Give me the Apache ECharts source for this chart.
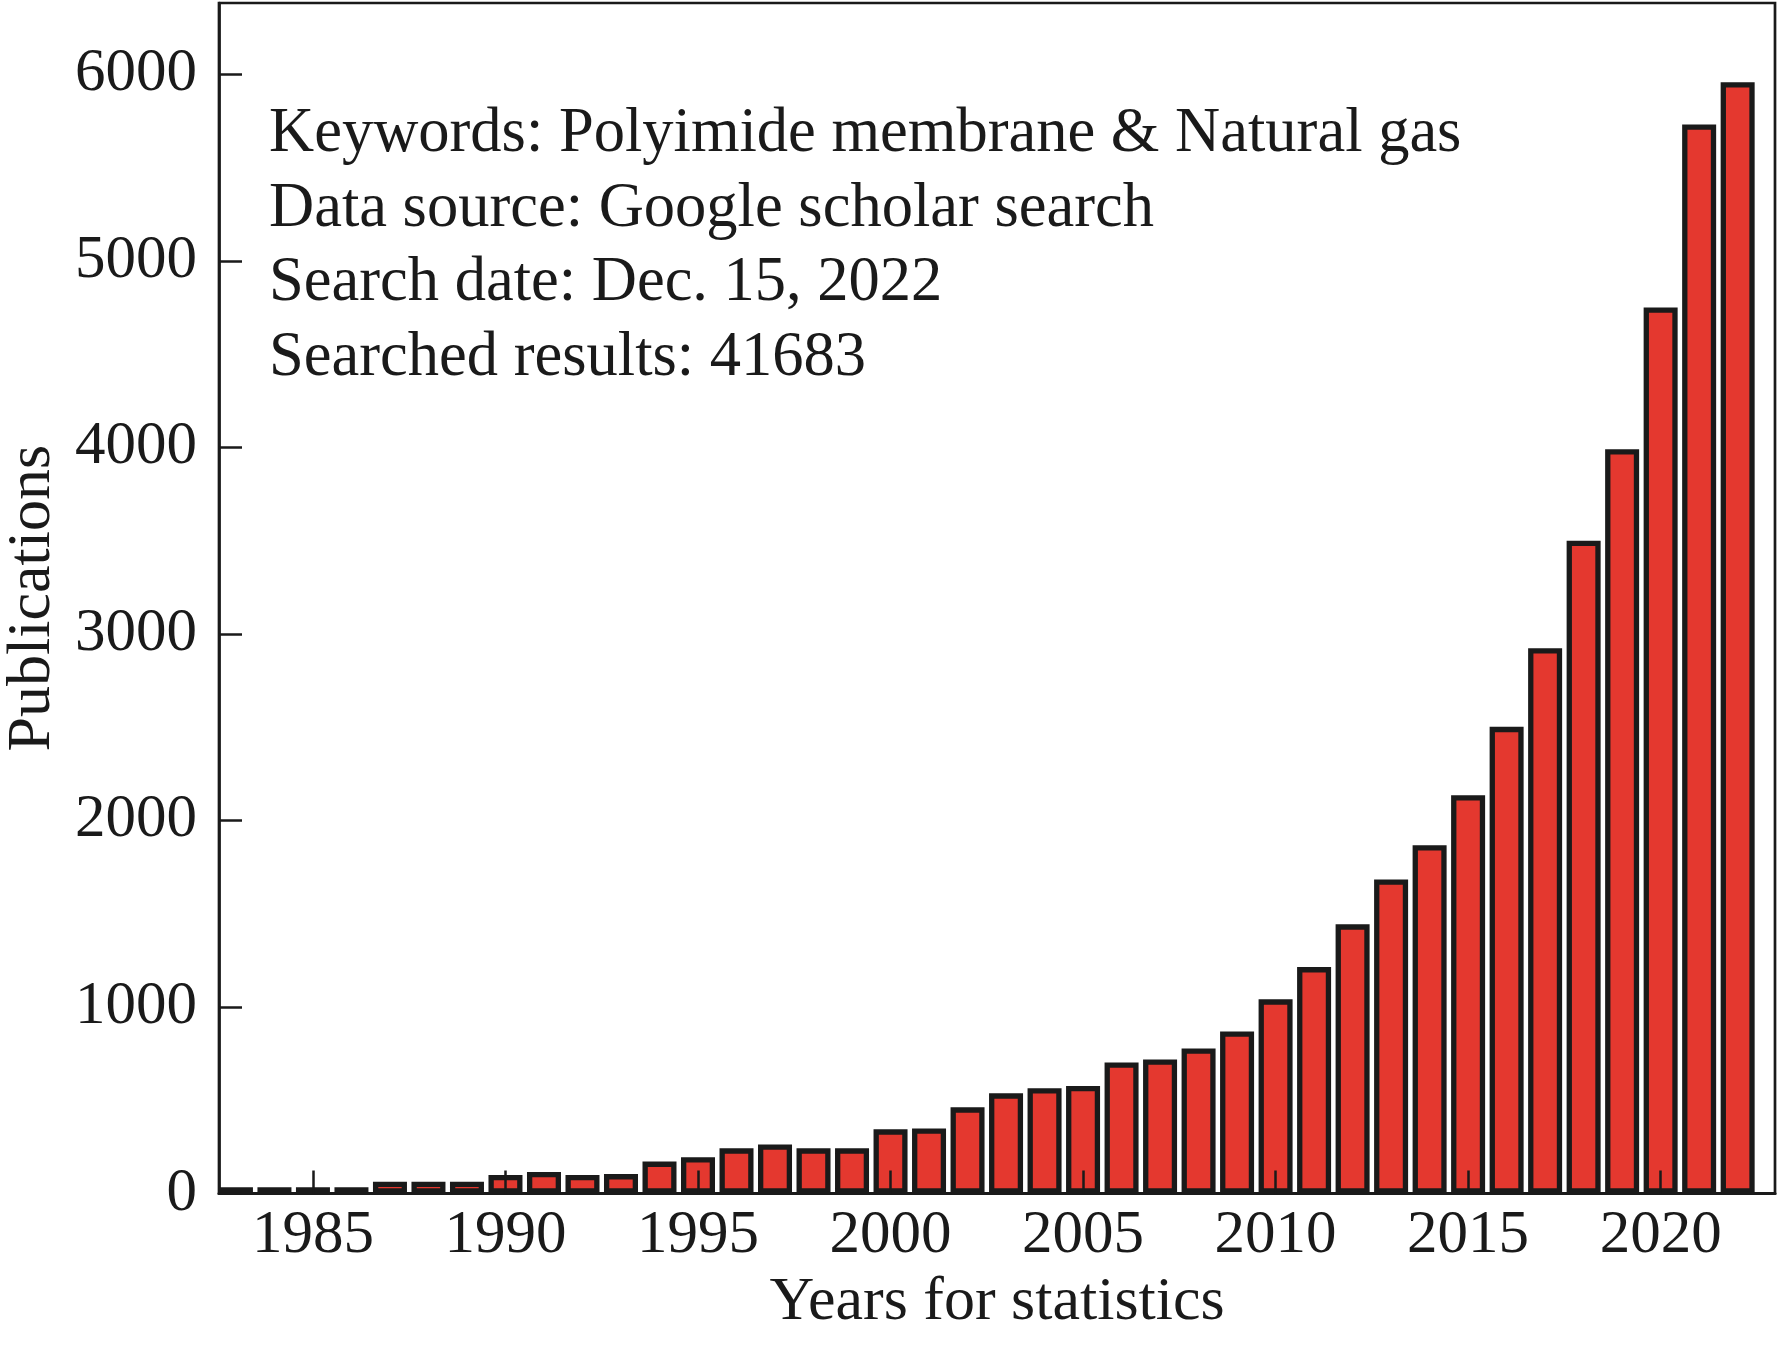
<!DOCTYPE html>
<html>
<head>
<meta charset="utf-8">
<script src="https://cdn.jsdelivr.net/npm/echarts@6/dist/echarts.min.js"></script>
<style>
html,body{margin:0;padding:0;background:#fff;}
#chart{width:1778px;height:1346px;}
</style>
</head>
<body>
<div id="chart"></div>
<script>
const years = [1983,1984,1985,1986,1987,1988,1989,1990,1991,1992,1993,1994,1995,1996,1997,1998,1999,2000,2001,2002,2003,2004,2005,2006,2007,2008,2009,2010,2011,2012,2013,2014,2015,2016,2017,2018,2019,2020,2021,2022];
const publications = [33,33,33,33,63,63,63,99,115,99,104,171,194,242,263,242,242,344,349,462,537,564,577,703,719,778,869,1041,1214,1443,1684,1867,2135,2502,2924,3500,3990,4751,5732,5958];
const xTickYears = [1985,1990,1995,2000,2005,2010,2015,2020];
const yTickValues = [0,1000,2000,3000,4000,5000,6000];
const annotationLines = [
  'Keywords: Polyimide membrane & Natural gas',
  'Data source: Google scholar search',
  'Search date: Dec. 15, 2022',
  'Searched results: 41683'
];
const xAxisName = 'Years for statistics';
const yAxisName = 'Publications';

const FONT = '"Liberation Serif", "Times New Roman", Times, serif';
const INK = '#1a1a1a';
const RED = '#e4382f';

const chart = echarts.init(document.getElementById('chart'), null, {renderer: 'canvas'});
chart.setOption({
  backgroundColor: '#ffffff',
  animation: false,
  grid: {
    left: 219, right: 3, top: 3, bottom: 152.5,
    containLabel: false,
    outerBoundsMode: 'none',
    show: true, borderColor: INK, borderWidth: 2.7, backgroundColor: 'transparent'
  },
  xAxis: {
    type: 'value',
    min: 1982.56,
    max: 2022.97,
    z: 5,
    name: xAxisName,
    nameLocation: 'middle',
    nameGap: 78,
    nameTextStyle: {fontFamily: FONT, fontSize: 62, color: INK},
    axisLine: {show: true, onZero: false, lineStyle: {color: INK, width: 3}},
    axisTick: {show: true, inside: true, length: 23, customValues: xTickYears, lineStyle: {color: INK, width: 2.5}},
    axisLabel: {show: true, customValues: xTickYears, margin: 12, fontFamily: FONT, fontSize: 61, color: INK, formatter: v => String(v)},
    splitLine: {show: false}
  },
  yAxis: {
    type: 'value',
    min: 0,
    max: 6383,
    z: 5,
    name: yAxisName,
    nameLocation: 'middle',
    nameGap: 155,
    nameTextStyle: {fontFamily: FONT, fontSize: 62, color: INK},
    axisLine: {show: true, lineStyle: {color: INK, width: 2.7}},
    axisTick: {show: true, inside: true, length: 23, customValues: yTickValues, lineStyle: {color: INK, width: 2.5}},
    axisLabel: {show: true, customValues: yTickValues, margin: 22, fontFamily: FONT, fontSize: 61, color: INK, formatter: v => String(v)},
    splitLine: {show: false}
  },
  graphic: [{
    type: 'text',
    left: 269,
    top: 97,
    z: 10,
    style: {
      text: annotationLines.join('\n'),
      font: '62.5px ' + FONT,
      fill: INK,
      lineHeight: 74.8
    }
  }],
  series: [{
    type: 'bar',
    data: years.map((y, i) => [y, publications[i]]),
    barWidth: 34,
    itemStyle: {color: RED, borderColor: INK, borderWidth: 5.3}
  }]
});
</script>
</body>
</html>
